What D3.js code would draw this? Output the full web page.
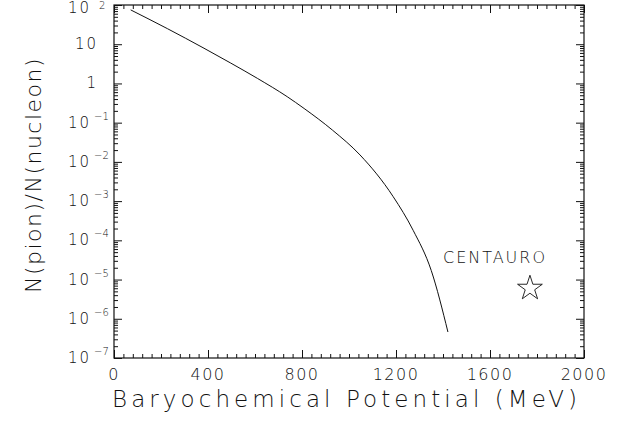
<!DOCTYPE html>
<html>
<head>
<meta charset="utf-8">
<script src="https://cdn.jsdelivr.net/npm/d3@7"></script>
<style>
  body { margin: 0; background: #fff; }
  text { font-family: "DejaVu Sans", sans-serif; fill: #111; font-weight: 200; }
</style>
</head>
<body>
<svg id="chart" width="629" height="423"></svg>
<script>
const width = 629;
const height = 423;
const margin = { left: 114, right: 45, top: 5, bottom: 65 };

// curve
const muValues = [71, 227, 383, 497, 610, 737, 809, 929, 1047, 1188, 1273, 1350, 1421];
const ratioValues = [75, 25, 7.9, 3.3, 1.35, 0.46, 0.23, 0.065, 0.015, 1.3e-3, 1.8e-4, 1.7e-5, 4.6e-7];

// CENTAURO point
const centauroMu = 1770;
const centauroRatio = 6e-6;

const xTicks = [0, 400, 800, 1200, 1600, 2000];
const yExponents = [2, 1, 0, -1, -2, -3, -4, -5, -6, -7];

const svg = d3.select("#chart");

const x = d3.scaleLinear()
    .domain([0, 2000])
    .range([margin.left, width - margin.right]);

const y = d3.scaleLog()
    .domain([1e-7, 1e2])
    .range([height - margin.bottom, margin.top]);

const xMinor = d3.range(0, 2001, 40).filter(v => v % 400 !== 0);
const yMinor = [];
for (let e = -7; e < 2; e++) {
    for (let m = 2; m <= 9; m++) yMinor.push(m * Math.pow(10, e));
}
const yMajor = yExponents.map(e => Math.pow(10, e));

const plotTop = margin.top;
const plotBottom = height - margin.bottom;
const plotLeft = margin.left;
const plotRight = width - margin.right;

function tickAxis(axis, values, size, transform) {
    const g = svg.append("g")
        .attr("transform", transform)
        .call(axis.tickValues(values).tickSize(-size).tickFormat(""));
    g.select(".domain").remove();
    g.selectAll("line").attr("stroke", "#111").attr("stroke-width", 1);
}

// major + minor ticks on all four sides, pointing in
tickAxis(d3.axisBottom(x), xTicks, 8, `translate(0,${plotBottom})`);
tickAxis(d3.axisBottom(x), xMinor, 4, `translate(0,${plotBottom})`);
tickAxis(d3.axisTop(x), xTicks, 8, `translate(0,${plotTop})`);
tickAxis(d3.axisTop(x), xMinor, 4, `translate(0,${plotTop})`);
tickAxis(d3.axisLeft(y), yMajor, 8, `translate(${plotLeft},0)`);
tickAxis(d3.axisLeft(y), yMinor, 4, `translate(${plotLeft},0)`);
tickAxis(d3.axisRight(y), yMajor, 8, `translate(${plotRight},0)`);
tickAxis(d3.axisRight(y), yMinor, 4, `translate(${plotRight},0)`);

// frame
svg.append("rect")
    .attr("x", plotLeft)
    .attr("y", plotTop)
    .attr("width", plotRight - plotLeft)
    .attr("height", plotBottom - plotTop)
    .attr("fill", "none")
    .attr("stroke", "#111")
    .attr("stroke-width", 1.2);

// x tick labels
svg.append("g").selectAll("text")
    .data(xTicks)
    .join("text")
    .attr("x", d => x(d))
    .attr("y", plotBottom + 22)
    .attr("text-anchor", "middle")
    .style("font-size", "16px")
    .style("letter-spacing", "1.5px")
    .text(d => d);

// y tick labels: 10^e
const yLabels = svg.append("g");
yExponents.forEach(e => {
    const yy = Math.max(y(Math.pow(10, e)) + 5, 13);
    if (e === 1 || e === 0) {
        yLabels.append("text")
            .attr("x", 98)
            .attr("y", yy)
            .attr("text-anchor", "end")
            .style("font-size", "15px")
            .style("letter-spacing", "2px")
            .text(e === 1 ? "10" : "1");
    } else {
        yLabels.append("text")
            .attr("x", 68)
            .attr("y", yy)
            .style("font-size", "15px")
            .style("letter-spacing", "2px")
            .text("10");
        yLabels.append("text")
            .attr("x", e < 0 ? 94 : 99)
            .attr("y", Math.max(yy - 8, 9))
            .style("font-size", "10px")
            .text(e < 0 ? "\u2212" + Math.abs(e) : e);
    }
});

// curve
const line = d3.line()
    .x(d => x(d[0]))
    .y(d => y(d[1]))
    .curve(d3.curveMonotoneX);

svg.append("path")
    .datum(muValues.map((m, i) => [m, ratioValues[i]]))
    .attr("fill", "none")
    .attr("stroke", "#111")
    .attr("stroke-width", 1)
    .attr("d", line);

// CENTAURO star
svg.append("path")
    .attr("transform", `translate(${x(centauroMu)},${y(centauroRatio)})`)
    .attr("d", d3.symbol().type(d3.symbolStar).size(190))
    .attr("fill", "none")
    .attr("stroke", "#111")
    .attr("stroke-width", 0.9);

svg.append("text")
    .attr("x", 443)
    .attr("y", 263)
    .attr("textLength", 102)
    .attr("lengthAdjust", "spacing")
    .style("font-size", "16px")
    .text("CENTAURO");

// axis titles
svg.append("text")
    .attr("x", 112)
    .attr("y", 407)
    .attr("textLength", 465)
    .attr("lengthAdjust", "spacing")
    .style("font-size", "23px")
    .text("Baryochemical Potential (MeV)");

svg.append("text")
    .attr("transform", "translate(41,175) rotate(-90)")
    .attr("text-anchor", "middle")
    .style("font-size", "22px")
    .style("letter-spacing", "1.5px")
    .text("N(pion)/N(nucleon)");
</script>
</body>
</html>
